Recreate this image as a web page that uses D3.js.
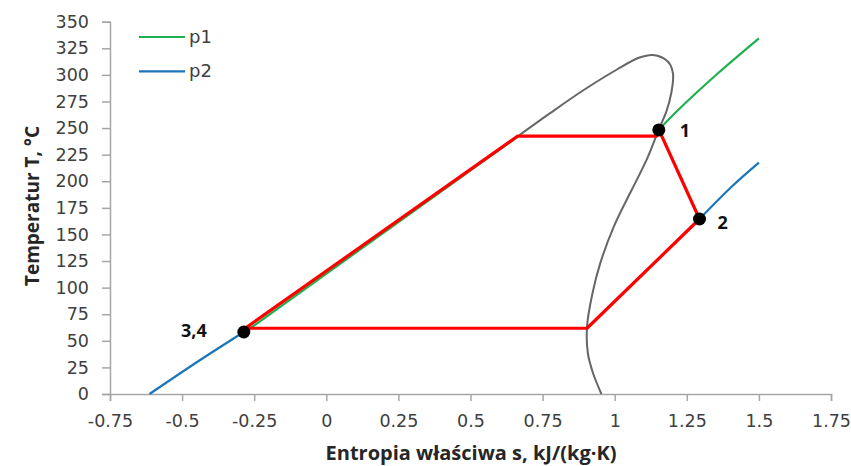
<!DOCTYPE html>
<html>
<head>
<meta charset="utf-8">
<script src="https://cdn.jsdelivr.net/npm/d3@7"></script>
<style>
  body { margin: 0; background: #fff; }
  svg { display: block; }
  .tick text { font-family: 'DejaVu Sans', sans-serif; font-size: 17.5px; fill: #404040; }
  .axis-title { font-family: 'Open Sans', sans-serif; font-weight: 700; fill: #262626; }
  .pt-label { font-family: 'Open Sans', sans-serif; font-weight: 700; font-size: 18px; fill: #111; }
  .legend text { font-family: 'DejaVu Sans', sans-serif; font-size: 18px; fill: #404040; }
</style>
</head>
<body>
<div id="chart"></div>
<script>
const xTicks = [-0.75, -0.5, -0.25, 0, 0.25, 0.5, 0.75, 1, 1.25, 1.5, 1.75];
const yTicks = [0, 25, 50, 75, 100, 125, 150, 175, 200, 225, 250, 275, 300, 325, 350];

// saturation dome [s, T]
const satDome = [
  [0.668, 243], [0.776, 264], [0.890, 285.3], [1.005, 304.6], [1.086, 316.3],
  [1.133, 318.7], [1.185, 312.4], [1.202, 301.5], [1.196, 282.7], [1.179, 265.4],
  [1.153, 248.8], [1.112, 221], [0.998, 158], [0.950, 123],
  [0.923, 94.7], [0.904, 63.3], [0.907, 38.3], [0.925, 19.5], [0.954, 0]
];

// isobars
const p1Liquid = [[-0.286, 57.5], [0.664, 242]];
const p1Vapour = [[1.153, 248.5], [1.22, 267], [1.36, 302], [1.5, 334.4]];
const p2Liquid = [[-0.613, 0], [-0.44, 31.5], [-0.286, 58.3]];
const p2Vapour = [[1.294, 164.5], [1.41, 196], [1.5, 217.5]];

// refrigeration cycle
const cycle = [
  [-0.283, 61.5], [0.664, 242.5], [1.146, 242.5], [1.153, 248.5],
  [1.294, 164.5], [0.904, 61.8], [-0.283, 61.8]
];

const statePoints = [
  { s: 1.153, T: 248.3, label: '1' },
  { s: 1.294, T: 164.5, label: '2' },
  { s: -0.286, T: 58.3, label: '3,4' }
];

const series = [
  { name: 'p1', color: '#1eb14f' },
  { name: 'p2', color: '#1b75bb' }
];

const width = 851, height = 466;
const margin = { top: 21.7, right: 20, bottom: 72, left: 110 };

const svg = d3.select('#chart')
  .append('svg')
  .attr('width', width)
  .attr('height', height);

const x = d3.scaleLinear().domain([-0.75, 1.75]).range([margin.left, 831]);
const y = d3.scaleLinear().domain([0, 350]).range([394, margin.top]);

const axisColor = '#a6a6a6';

const xAxis = svg.append('g')
  .attr('transform', `translate(0,${y(0)})`)
  .call(d3.axisBottom(x).tickValues(xTicks).tickSize(7).tickPadding(14)
    .tickFormat(d => String(d)));
const yAxis = svg.append('g')
  .attr('transform', `translate(${x(-0.75)},0)`)
  .call(d3.axisLeft(y).tickValues(yTicks).tickSize(8).tickPadding(13));

[xAxis, yAxis].forEach(g => {
  g.select('.domain').attr('stroke', axisColor).attr('stroke-width', 1.5);
  g.selectAll('.tick line').attr('stroke', axisColor).attr('stroke-width', 1.5);
});

const line = d3.line().x(d => x(d[0])).y(d => y(d[1]));
const smooth = d3.line().x(d => x(d[0])).y(d => y(d[1])).curve(d3.curveCatmullRom);

const plot = svg.append('g').attr('fill', 'none');

plot.append('path').attr('d', smooth(satDome))
  .attr('stroke', '#666').attr('stroke-width', 2);

[[p1Liquid, 0], [p1Vapour, 0], [p2Liquid, 1], [p2Vapour, 1]].forEach(([pts, i]) => {
  plot.append('path').attr('d', smooth(pts))
    .attr('stroke', series[i].color).attr('stroke-width', 2.2);
});

plot.append('path').attr('d', line(cycle))
  .attr('stroke', '#ff0000').attr('stroke-width', 3.2)
  .attr('stroke-linejoin', 'round');

svg.append('g').selectAll('circle')
  .data(statePoints)
  .join('circle')
  .attr('cx', d => x(d.s))
  .attr('cy', d => y(d.T))
  .attr('r', 6.5)
  .attr('fill', '#000');

const labelOffset = { '1': [21, 7], '2': [18, 10], '3,4': [-50, 5] };
svg.append('g').selectAll('text')
  .data(statePoints)
  .join('text')
  .attr('class', 'pt-label')
  .attr('x', d => x(d.s) + labelOffset[d.label][0])
  .attr('y', d => y(d.T) + labelOffset[d.label][1])
  .attr('text-anchor', d => d.label === '3,4' ? 'middle' : 'start')
  .text(d => d.label);

// legend
const legend = svg.append('g').attr('class', 'legend');
series.forEach((s, i) => {
  const ly = 37 + i * 34.3;
  legend.append('line')
    .attr('x1', 139).attr('x2', 185).attr('y1', ly).attr('y2', ly)
    .attr('stroke', s.color).attr('stroke-width', 2.2);
  legend.append('text')
    .attr('x', 189).attr('y', ly + 6)
    .text(s.name);
});

svg.append('text')
  .attr('class', 'axis-title')
  .attr('font-size', 20)
  .attr('x', 471).attr('y', 460)
  .attr('text-anchor', 'middle')
  .text('Entropia właściwa s, kJ/(kg·K)');

svg.append('text')
  .attr('class', 'axis-title')
  .attr('font-size', 19)
  .attr('transform', 'translate(39,206) rotate(-90)')
  .attr('text-anchor', 'middle')
  .text('Temperatur T, °C');
</script>
</body>
</html>
